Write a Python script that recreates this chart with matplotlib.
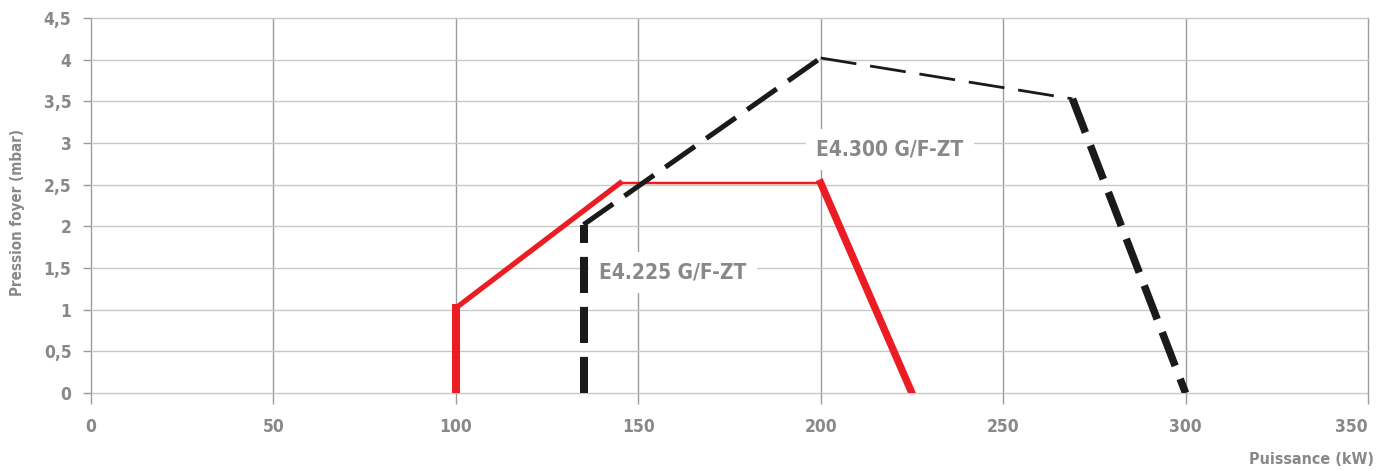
import matplotlib
matplotlib.use('Agg')
import matplotlib.pyplot as plt
import numpy as np

plt.rcParams['font.family'] = ['DejaVu Sans']
plt.rcParams['font.stretch'] = 'condensed'
plt.rcParams['font.weight'] = 'bold'
plt.rcParams['lines.scale_dashes'] = False

# data
e4225_x = [100, 100, 145, 200, 225]
e4225_y = [0, 1.02, 2.52, 2.52, 0]
e4300_x = [135, 135, 200, 269, 300]
e4300_y = [0, 2.02, 4.02, 3.53, 0]
x_ticks = [0, 50, 100, 150, 200, 250, 300, 350]
y_ticks = [0, 0.5, 1, 1.5, 2, 2.5, 3, 3.5, 4, 4.5]
y_tick_labels = ['0', '0,5', '1', '1,5', '2', '2,5', '3', '3,5', '4', '4,5']
label_225 = 'E4.225 G/F-ZT'
label_300 = 'E4.300 G/F-ZT'

grey_txt = '#888888'

fig = plt.figure(figsize=(13.79, 4.71), dpi=100)
ax = fig.add_axes([91 / 1379, 78 / 471, (1368 - 91) / 1379, (393 - 18) / 471])
ax.set_xlim(0, 350)
ax.set_ylim(0, 4.5)

for x in x_ticks:
    ax.axvline(x, color='#9c9c9c', lw=1.0, zorder=1, clip_on=False)
for y in y_ticks:
    ax.axhline(y, color='#c8c8c8', lw=1.0, zorder=1, clip_on=False)

for s in ax.spines.values():
    s.set_visible(False)

ax.set_xticks(x_ticks)
ax.set_xticklabels([str(v) for v in x_ticks])
ax.set_yticks(y_ticks)
ax.set_yticklabels(y_tick_labels)
ax.tick_params(axis='x', length=8, width=1.0, color='#9c9c9c', pad=10,
               labelsize=12.5, labelcolor=grey_txt)
ax.tick_params(axis='y', length=6, width=1.0, color='#9c9c9c', pad=8,
               labelsize=12.5, labelcolor=grey_txt)
# last label is squeezed against the right edge in the original
ax.get_xticklabels()[-1].set_horizontalalignment('right')

fig.canvas.draw()


# "calligraphic" stroke: thick when vertical, thin when horizontal
def seg_width(x0, y0, x1, y1, a=8.0, b=2.5):
    p0 = ax.transData.transform((x0, y0))
    p1 = ax.transData.transform((x1, y1))
    th = np.arctan2(abs(p1[1] - p0[1]), abs(p1[0] - p0[0]))
    px = np.hypot(a * np.sin(th), b * np.cos(th))
    return px * 0.72


def draw_line(xs, ys, color, dashed):
    for i in range(len(xs) - 1):
        lw = seg_width(xs[i], ys[i], xs[i + 1], ys[i + 1])
        kw = dict(color=color, lw=lw, solid_capstyle='projecting',
                  dash_capstyle='butt', zorder=3)
        if dashed:
            kw['dashes'] = (26, 10)
        ax.plot(xs[i:i + 2], ys[i:i + 2], **kw)


draw_line(e4225_x, e4225_y, '#ec1c24', False)
draw_line(e4300_x, e4300_y, '#1a1a1a', True)

box = dict(boxstyle='square,pad=0.5', facecolor='white', edgecolor='none')
ax.text(159.5, 1.45, label_225, fontsize=15, color=grey_txt, ha='center',
        va='center', bbox=box, zorder=4)
ax.text(219, 2.92, label_300, fontsize=15, color=grey_txt, ha='center',
        va='center', bbox=box, zorder=4)

fig.text(18 / 1379, 1 - 212 / 471, 'Pression foyer (mbar)', rotation=90,
         ha='center', va='center', fontsize=10.8, color=grey_txt)
fig.text(1374 / 1379, 1 - 460 / 471, 'Puissance (kW)', ha='right',
         va='center', fontsize=11.5, color=grey_txt)

fig.savefig('out.png', dpi=100)
